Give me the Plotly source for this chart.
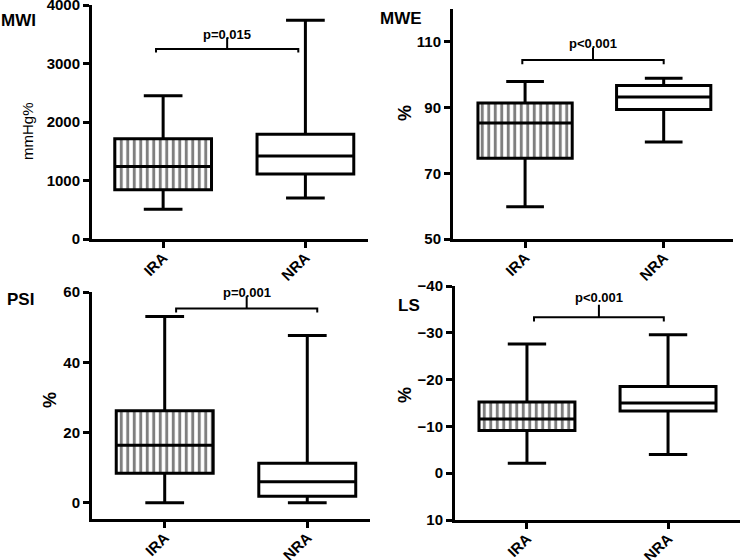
import plotly.graph_objects as go

# box statistics  [IRA, NRA]
groups = ["IRA", "NRA"]

mwi_low = [510, 700]
mwi_q1 = [840, 1110]
mwi_med = [1240, 1420]
mwi_q3 = [1715, 1790]
mwi_high = [2450, 3740]

mwe_low = [59.8, 79.5]
mwe_q1 = [74.6, 89.4]
mwe_med = [85.3, 93.2]
mwe_q3 = [91.4, 96.7]
mwe_high = [97.9, 98.9]

psi_low = [0, 0]
psi_q1 = [8.4, 1.9]
psi_med = [16.4, 6.0]
psi_q3 = [26.2, 11.3]
psi_high = [53.0, 47.6]

# LS is negative strain: low/q1 are the more negative values
ls_low = [-27.6, -29.6]
ls_q1 = [-15.2, -18.5]
ls_med = [-11.6, -15.0]
ls_q3 = [-9.1, -13.3]
ls_high = [-2.1, -4.0]

# significance brackets: [left x, right x], level, end-hook level, tick top, text level
mwi_br = dict(xs=[-0.05, 0.95], y=3250, hook=3190, top=3440, ty=3500, text="p=0.015")
mwe_br = dict(xs=[-0.02, 1.0], y=104.5, hook=103.2, top=108.2, ty=109.6, text="p<0.001")
psi_br = dict(xs=[0.08, 1.07], y=55.3, hook=54.2, top=58.8, ty=59.8, text="p=0.001")
ls_br = dict(xs=[0.05, 0.97], y=-33.3, hook=-32.4, top=-36.0, ty=-37.6, text="p<0.001")

W, H = 740, 560
FONT = "Liberation Sans, Arial, sans-serif"

fig = go.Figure()

panels = [
    dict(n="", low=mwi_low, q1=mwi_q1, med=mwi_med, q3=mwi_q3, high=mwi_high, br=mwi_br,
         xpx=(92, 368), ypx=(5, 239), xr=[-0.5, 1.44], yr=[0, 4000],
         ytv=[0, 1000, 2000, 3000, 4000]),
    dict(n="2", low=mwe_low, q1=mwe_q1, med=mwe_med, q3=mwe_q3, high=mwe_high, br=mwe_br,
         xpx=(453, 733), ypx=(9, 239), xr=[-0.52, 1.5], yr=[50, 120],
         ytv=[50, 70, 90, 110]),
    dict(n="3", low=psi_low, q1=psi_q1, med=psi_med, q3=psi_q3, high=psi_high, br=psi_br,
         xpx=(92, 370), ypx=(292, 519), xr=[-0.51, 1.44], yr=[-4.6, 60],
         ytv=[0, 20, 40, 60]),
    dict(n="4", low=ls_low, q1=ls_q1, med=ls_med, q3=ls_q3, high=ls_high, br=ls_br,
         xpx=(455, 740), ypx=(286, 520), xr=[-0.51, 1.51], yr=[10, -40],
         ytv=[-40, -30, -20, -10, 0, 10]),
]

for p in panels:
    xa, ya = "x" + p["n"], "y" + p["n"]
    # hatched fill of the IRA box
    fig.add_trace(go.Bar(
        x=[0], base=[p["q1"][0]], y=[p["q3"][0] - p["q1"][0]], width=0.68,
        marker=dict(color="white", line=dict(width=0),
                    pattern=dict(shape="|", fgcolor="black", bgcolor="white",
                                 size=6.5, solidity=0.45)),
        xaxis=xa, yaxis=ya, showlegend=False, hoverinfo="skip"))
    fig.add_trace(go.Box(
        x=[0, 1], q1=p["q1"], median=p["med"], q3=p["q3"],
        lowerfence=p["low"], upperfence=p["high"], width=0.68, whiskerwidth=0.4,
        fillcolor="rgba(0,0,0,0)", line=dict(color="black", width=3),
        boxpoints=False, xaxis=xa, yaxis=ya, showlegend=False))
    b = p["br"]
    fig.add_trace(go.Scatter(
        x=[b["xs"][0], b["xs"][0], b["xs"][1], b["xs"][1], None,
           sum(b["xs"]) / 2, sum(b["xs"]) / 2],
        y=[b["hook"], b["y"], b["y"], b["hook"], None, b["y"], b["top"]],
        mode="lines", line=dict(color="black", width=2),
        xaxis=xa, yaxis=ya, showlegend=False, hoverinfo="skip"))
    fig.add_annotation(x=sum(b["xs"]) / 2, y=b["ty"], xref=xa, yref=ya,
                       text=b["text"], showarrow=False, xanchor="center",
                       yanchor="middle",
                       font=dict(family=FONT, size=13, color="black", weight="bold"))

    axkey = "xaxis" + p["n"]
    aykey = "yaxis" + p["n"]
    fig.update_layout({
        axkey: dict(domain=[p["xpx"][0] / W, p["xpx"][1] / W], range=p["xr"],
                    anchor=ya, tickvals=[0, 1], ticktext=groups, tickangle=-45,
                    showline=True, linewidth=3, linecolor="black", ticks="outside",
                    ticklen=6, tickwidth=2.5, tickcolor="black", showgrid=False,
                    zeroline=False, ticklabelstandoff=-5, automargin=False,
                    ticklabeloverflow="allow",
                    tickfont=dict(family=FONT, size=15, color="black", weight="bold")),
        aykey: dict(domain=[1 - p["ypx"][1] / H, 1 - p["ypx"][0] / H], range=p["yr"],
                    anchor=xa, tickvals=p["ytv"], showline=True, linewidth=3,
                    linecolor="black", ticks="outside", ticklen=6, tickwidth=2.5,
                    tickcolor="black", showgrid=False, zeroline=False, automargin=False,
                    ticklabeloverflow="allow",
                    tickfont=dict(family=FONT, size=15, color="black", weight="bold")),
    })

# panel labels and axis titles
labels = [("MWI", 18, 21), ("MWE", 401, 18), ("PSI", 20, 299), ("LS", 409, 305)]
for t, px, py in labels:
    fig.add_annotation(x=px / W, y=1 - py / H, xref="paper", yref="paper", text=t,
                       showarrow=False, xanchor="center", yanchor="middle",
                       font=dict(family=FONT, size=17, color="black", weight="bold"))

fig.add_annotation(x=27 / W, y=1 - 131 / H, xref="paper", yref="paper", text="mmHg%",
                   showarrow=False, textangle=-90, xanchor="center", yanchor="middle",
                   font=dict(family=FONT, size=15, color="black"))
for px, py in [(405, 113), (50, 400), (405, 395)]:
    fig.add_annotation(x=px / W, y=1 - py / H, xref="paper", yref="paper", text="%",
                       showarrow=False, textangle=-90, xanchor="center",
                       yanchor="middle",
                       font=dict(family=FONT, size=18, color="black", weight="bold"))

fig.update_layout(width=W, height=H, margin=dict(l=0, r=0, t=0, b=0),
                  plot_bgcolor="white", paper_bgcolor="white", barmode="overlay",
                  boxmode="overlay")

# the page's default 8px body margin would shift the whole figure
fig.write_html("out.html", config={"displayModeBar": False},
               post_script="document.body.style.margin='0';"
                           "document.body.style.overflow='hidden';")
